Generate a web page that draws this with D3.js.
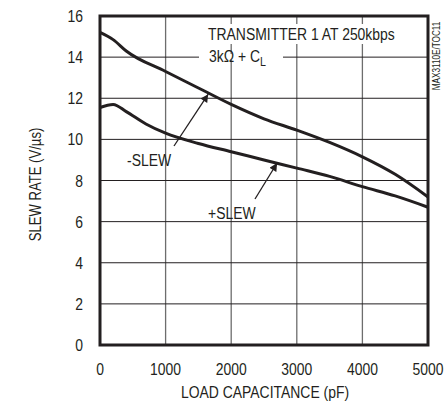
<!DOCTYPE html>
<html>
<head>
<meta charset="utf-8">
<script src="https://cdn.jsdelivr.net/npm/d3@7"></script>
<style>
  body { margin: 0; background: #fff; }
  text { font-family: "Liberation Sans", Arial, sans-serif; fill: #231f20; }
</style>
</head>
<body>
<div class="canva"></div>
<script>
// load capacitance (pF)
const xTicks = [0, 1000, 2000, 3000, 4000, 5000];
const yTicks = [0, 2, 4, 6, 8, 10, 12, 14, 16];

// -SLEW (upper curve)
const negCap  = [0, 200, 400, 1000, 1500, 2000, 2500, 3000, 3500, 4000, 4500, 5000];
const negSlew = [15.2, 14.85, 14.3, 13.3, 12.5, 11.7, 11.0, 10.45, 9.85, 9.15, 8.3, 7.2];

// +SLEW (lower curve)
const posCap  = [0, 200, 400, 700, 1000, 1500, 2000, 2500, 3000, 3500, 4000, 4500, 5000];
const posSlew = [11.55, 11.7, 11.35, 10.75, 10.3, 9.8, 9.4, 9.0, 8.6, 8.2, 7.7, 7.25, 6.7];

const width = 448, height = 402;
const margin = {top: 16, right: 20, bottom: 57, left: 100};
const narrow = 0.82; // no narrow font installed, squeeze the regular one

const svg = d3.select('.canva').append('svg')
  .attr('width', width)
  .attr('height', height);

const x = d3.scaleLinear().domain([0, 5000]).range([margin.left, width - margin.right]);
const y = d3.scaleLinear().domain([0, 16]).range([height - margin.bottom, margin.top]);

function label(px, py, size, anchor, str, rot) {
  return svg.append('text')
    .attr('transform', 'translate(' + px + ',' + py + ')' + (rot ? ' rotate(' + rot + ')' : '') + ' scale(' + narrow + ',1)')
    .attr('text-anchor', anchor)
    .style('font-size', size + 'px')
    .text(str);
}

//grid
svg.append('g').selectAll('line')
  .data(xTicks.slice(1, -1))
  .enter().append('line')
  .attr('x1', d => x(d)).attr('x2', d => x(d))
  .attr('y1', y(16)).attr('y2', y(0))
  .attr('stroke', '#6d6d6d').attr('stroke-width', 1.3);

svg.append('g').selectAll('line')
  .data(yTicks.slice(1, -1))
  .enter().append('line')
  .attr('x1', x(0)).attr('x2', x(5000))
  .attr('y1', d => y(d)).attr('y2', d => y(d))
  .attr('stroke', '#231f20').attr('stroke-width', 1);

//tick labels
yTicks.forEach(d => label(x(0) - 17, y(d) + 6, 17, 'end', d));
xTicks.forEach(d => label(x(d), y(0) + 30, 17, 'middle', d));

//axis titles
label(41, (y(16) + y(0)) / 2 + 4, 16, 'middle', 'SLEW RATE (V/\u00b5s)', -90);
label((x(0) + x(5000)) / 2 + 1, 398, 17, 'middle', 'LOAD CAPACITANCE (pF)');
label(440, 56, 10, 'middle', 'MAX3110E/TOC11', -90);

//condition text, white behind it
svg.append('rect')
  .attr('x', 204).attr('y', 24).attr('width', 194).attr('height', 20)
  .attr('fill', '#fff');
svg.append('rect')
  .attr('x', 199).attr('y', 54).attr('width', 84).attr('height', 6)
  .attr('fill', '#fff');

label(208, 40, 17, 'start', 'TRANSMITTER 1 AT 250kbps');

const cl = label(209, 62, 17, 'start', '3k\u03a9 + C');
cl.append('tspan').attr('dy', 4).style('font-size', '13px').text('L');

//curves
const line = d3.line()
  .x(d => x(d[0]))
  .y(d => y(d[1]))
  .curve(d3.curveMonotoneX);

svg.append('path')
  .datum(d3.zip(negCap, negSlew))
  .attr('d', line)
  .attr('fill', 'none')
  .attr('stroke', '#231f20')
  .attr('stroke-width', 3);

svg.append('path')
  .datum(d3.zip(posCap, posSlew))
  .attr('d', line)
  .attr('fill', 'none')
  .attr('stroke', '#231f20')
  .attr('stroke-width', 3);

//frame
svg.append('rect')
  .attr('x', x(0)).attr('y', y(16))
  .attr('width', x(5000) - x(0)).attr('height', y(0) - y(16))
  .attr('fill', 'none')
  .attr('stroke', '#231f20')
  .attr('stroke-width', 3);

//arrows + labels
svg.append('defs').append('marker')
  .attr('id', 'head')
  .attr('viewBox', '0 0 10 10')
  .attr('refX', 10).attr('refY', 5)
  .attr('markerWidth', 11).attr('markerHeight', 8)
  .attr('markerUnits', 'userSpaceOnUse')
  .attr('orient', 'auto')
  .append('path')
  .attr('d', 'M0,0L10,5L0,10Z')
  .attr('fill', '#231f20');

function arrow(x1, y1, x2, y2) {
  svg.append('line')
    .attr('x1', x1).attr('y1', y1)
    .attr('x2', x2).attr('y2', y2)
    .attr('stroke', '#231f20')
    .attr('stroke-width', 1.3)
    .attr('marker-end', 'url(#head)');
}

arrow(174, 146, x(1650), y(12.2));
arrow(255, 199, x(2700), y(8.85));

label(127, 166, 17, 'start', '-SLEW');
label(208, 219, 17, 'start', '+SLEW');
</script>
</body>
</html>
